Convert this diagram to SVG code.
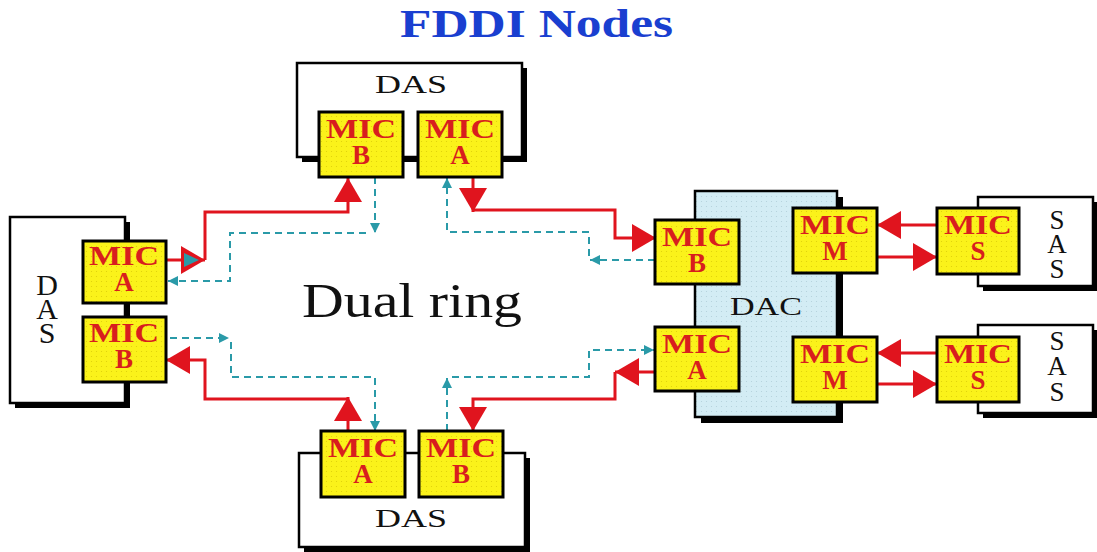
<svg xmlns="http://www.w3.org/2000/svg" width="1097" height="552" viewBox="0 0 1097 552">
<defs>
<style>
.box{fill:#ffffff;stroke:#000;stroke-width:2.5}
.shadow{fill:#000}
.mic{fill:url(#dotsY);stroke:#000;stroke-width:3}
.dac{fill:url(#dotsB);stroke:#000;stroke-width:2.5}
.mict{font-family:"Liberation Serif","Times New Roman",serif;font-weight:bold;font-size:27px;fill:#d81e1e;text-anchor:middle}
.lbl{font-family:"Liberation Serif","Times New Roman",serif;font-size:26px;fill:#111;text-anchor:middle}
.red{fill:none;stroke:#e0141e;stroke-width:3}
.teal{fill:none;stroke:#2a9aa8;stroke-width:2;stroke-dasharray:7 5}
</style>
<pattern id="dotsY" width="5" height="5" patternUnits="userSpaceOnUse">
<rect width="5" height="5" fill="#fbf21a"/>
<circle cx="1.5" cy="1.5" r="0.6" fill="#c8b400" opacity="0.6"/>
</pattern>
<pattern id="dotsB" width="5" height="5" patternUnits="userSpaceOnUse">
<rect width="5" height="5" fill="#d3ecf4"/>
<circle cx="1.5" cy="1.5" r="0.6" fill="#9abac6" opacity="0.6"/>
</pattern>
<marker id="ar" viewBox="0 0 24 28" markerWidth="24" markerHeight="28" refX="24" refY="14" orient="auto" markerUnits="userSpaceOnUse">
<path d="M0,0 L24,14 L0,28 z" fill="#e0141e"/>
</marker>
<marker id="at" viewBox="0 0 10 10" markerWidth="10" markerHeight="10" refX="10" refY="5" orient="auto" markerUnits="userSpaceOnUse">
<path d="M0,0 L10,5 L0,10 z" fill="#2a9aa8"/>
</marker>
</defs>
<rect width="1097" height="552" fill="#fff"/>

<text x="400" y="37" font-family="Liberation Serif, Times New Roman, serif" font-weight="bold" font-size="39" fill="#1a3fd0" textLength="273" lengthAdjust="spacingAndGlyphs">FDDI Nodes</text>

<text id="dual-ring" x="302" y="317" font-family="Liberation Serif, Times New Roman, serif" font-size="48" fill="#111" textLength="220" lengthAdjust="spacingAndGlyphs">Dual ring</text>

<g id="connectors">
<path class="red" d="M166,260 H205" marker-end="url(#ar)"/>
<path class="red" d="M205,260 V212 H348 V178" marker-end="url(#ar)"/>
<path class="red" d="M348,431 V397" marker-end="url(#ar)"/>
<path class="red" d="M348,399 H205 V360 H166" marker-end="url(#ar)"/>
<path class="red" d="M473,177 V212" marker-end="url(#ar)"/>
<path class="red" d="M473,210 H615 V238 H656" marker-end="url(#ar)"/>
<path class="red" d="M655,372 H615" marker-end="url(#ar)"/>
<path class="red" d="M615,372 V399 H473 V431" marker-end="url(#ar)"/>
<path class="red" d="M937,225 H877" marker-end="url(#ar)"/>
<path class="red" d="M877,257 H937" marker-end="url(#ar)"/>
<path class="red" d="M937,353 H877" marker-end="url(#ar)"/>
<path class="red" d="M877,384 H937" marker-end="url(#ar)"/>
<polygon points="184,253 199,260 184,267" fill="#2a9aa8"/>
<path class="teal" d="M375,177 V233" marker-end="url(#at)"/>
<path class="teal" d="M366,233 H230 V281 H168" marker-end="url(#at)"/>
<path class="teal" d="M170,338 H229" marker-end="url(#at)"/>
<path class="teal" d="M231,342 V377 H375 V431" marker-end="url(#at)"/>
<path class="teal" d="M589,256 V232 H447 V178" marker-end="url(#at)"/>
<path class="teal" d="M655,260 H590" marker-end="url(#at)"/>
<path class="teal" d="M447,431 V378" marker-end="url(#at)"/>
<path class="teal" d="M452,377 H589 V350 H654" marker-end="url(#at)"/>
</g>

<g id="das-top">
<rect class="shadow" x="302" y="68" width="225" height="94"/>
<rect class="box" x="297" y="63" width="225" height="94"/>
<text class="lbl" x="411" y="93" textLength="72" lengthAdjust="spacingAndGlyphs">DAS</text>
<g id="das-top-mic-b"><rect class="mic" x="319" y="112" width="84" height="65"/><text class="mict" x="361" y="138" textLength="70" lengthAdjust="spacingAndGlyphs">MIC</text><text class="mict" x="361" y="164">B</text></g>
<g id="das-top-mic-a"><rect class="mic" x="418" y="112" width="84" height="65"/><text class="mict" x="460" y="138" textLength="70" lengthAdjust="spacingAndGlyphs">MIC</text><text class="mict" x="460" y="164">A</text></g>
</g>

<g id="das-left">
<rect class="shadow" x="15" y="222" width="115" height="186"/>
<rect class="box" x="10" y="217" width="115" height="186"/>
<text class="lbl" style="font-size:30px"><tspan x="47" y="295">D</tspan><tspan x="47" y="319">A</tspan><tspan x="47" y="343">S</tspan></text>
<g id="das-left-mic-a"><rect class="mic" x="83" y="241" width="83" height="62"/><text class="mict" x="124" y="265" textLength="70" lengthAdjust="spacingAndGlyphs">MIC</text><text class="mict" x="124" y="291">A</text></g>
<g id="das-left-mic-b"><rect class="mic" x="83" y="317" width="83" height="65"/><text class="mict" x="124" y="342" textLength="70" lengthAdjust="spacingAndGlyphs">MIC</text><text class="mict" x="124" y="368">B</text></g>
</g>

<g id="das-bottom">
<rect class="shadow" x="304" y="458" width="226" height="94"/>
<rect class="box" x="299" y="453" width="226" height="94"/>
<text class="lbl" x="411" y="527" textLength="72" lengthAdjust="spacingAndGlyphs">DAS</text>
<g id="das-bottom-mic-a"><rect class="mic" x="321" y="431" width="84" height="66"/><text class="mict" x="363" y="457" textLength="70" lengthAdjust="spacingAndGlyphs">MIC</text><text class="mict" x="363" y="483">A</text></g>
<g id="das-bottom-mic-b"><rect class="mic" x="419" y="431" width="84" height="66"/><text class="mict" x="461" y="457" textLength="70" lengthAdjust="spacingAndGlyphs">MIC</text><text class="mict" x="461" y="483">B</text></g>
</g>

<g id="dac">
<rect class="shadow" x="701" y="197" width="142" height="226"/>
<rect class="dac" x="695" y="191" width="142" height="226"/>
<text class="lbl" x="766" y="315" textLength="72" lengthAdjust="spacingAndGlyphs">DAC</text>
<g id="dac-mic-b"><rect class="mic" x="655" y="220" width="84" height="64"/><text class="mict" x="697" y="246" textLength="70" lengthAdjust="spacingAndGlyphs">MIC</text><text class="mict" x="697" y="272">B</text></g>
<g id="dac-mic-a"><rect class="mic" x="655" y="327" width="84" height="64"/><text class="mict" x="697" y="353" textLength="70" lengthAdjust="spacingAndGlyphs">MIC</text><text class="mict" x="697" y="379">A</text></g>
<g id="dac-mic-m1"><rect class="mic" x="793" y="208" width="84" height="65"/><text class="mict" x="835" y="234" textLength="70" lengthAdjust="spacingAndGlyphs">MIC</text><text class="mict" x="835" y="260">M</text></g>
<g id="dac-mic-m2"><rect class="mic" x="793" y="337" width="84" height="65"/><text class="mict" x="835" y="363" textLength="70" lengthAdjust="spacingAndGlyphs">MIC</text><text class="mict" x="835" y="389">M</text></g>
</g>

<g id="sas-top">
<rect class="shadow" x="983" y="202" width="115" height="89"/>
<rect class="box" x="978" y="197" width="115" height="89"/>
<text class="lbl" style="font-size:27px"><tspan x="1057" y="229">S</tspan><tspan x="1057" y="253">A</tspan><tspan x="1057" y="278">S</tspan></text>
<g id="sas-top-mic-s"><rect class="mic" x="937" y="208" width="82" height="66"/><text class="mict" x="978" y="234" textLength="68" lengthAdjust="spacingAndGlyphs">MIC</text><text class="mict" x="978" y="260">S</text></g>
</g>

<g id="sas-bottom">
<rect class="shadow" x="983" y="330" width="115" height="88"/>
<rect class="box" x="978" y="325" width="115" height="88"/>
<text class="lbl" style="font-size:27px"><tspan x="1057" y="350">S</tspan><tspan x="1057" y="375">A</tspan><tspan x="1057" y="401">S</tspan></text>
<g id="sas-bottom-mic-s"><rect class="mic" x="937" y="337" width="82" height="65"/><text class="mict" x="978" y="363" textLength="68" lengthAdjust="spacingAndGlyphs">MIC</text><text class="mict" x="978" y="389">S</text></g>
</g>
</svg>
